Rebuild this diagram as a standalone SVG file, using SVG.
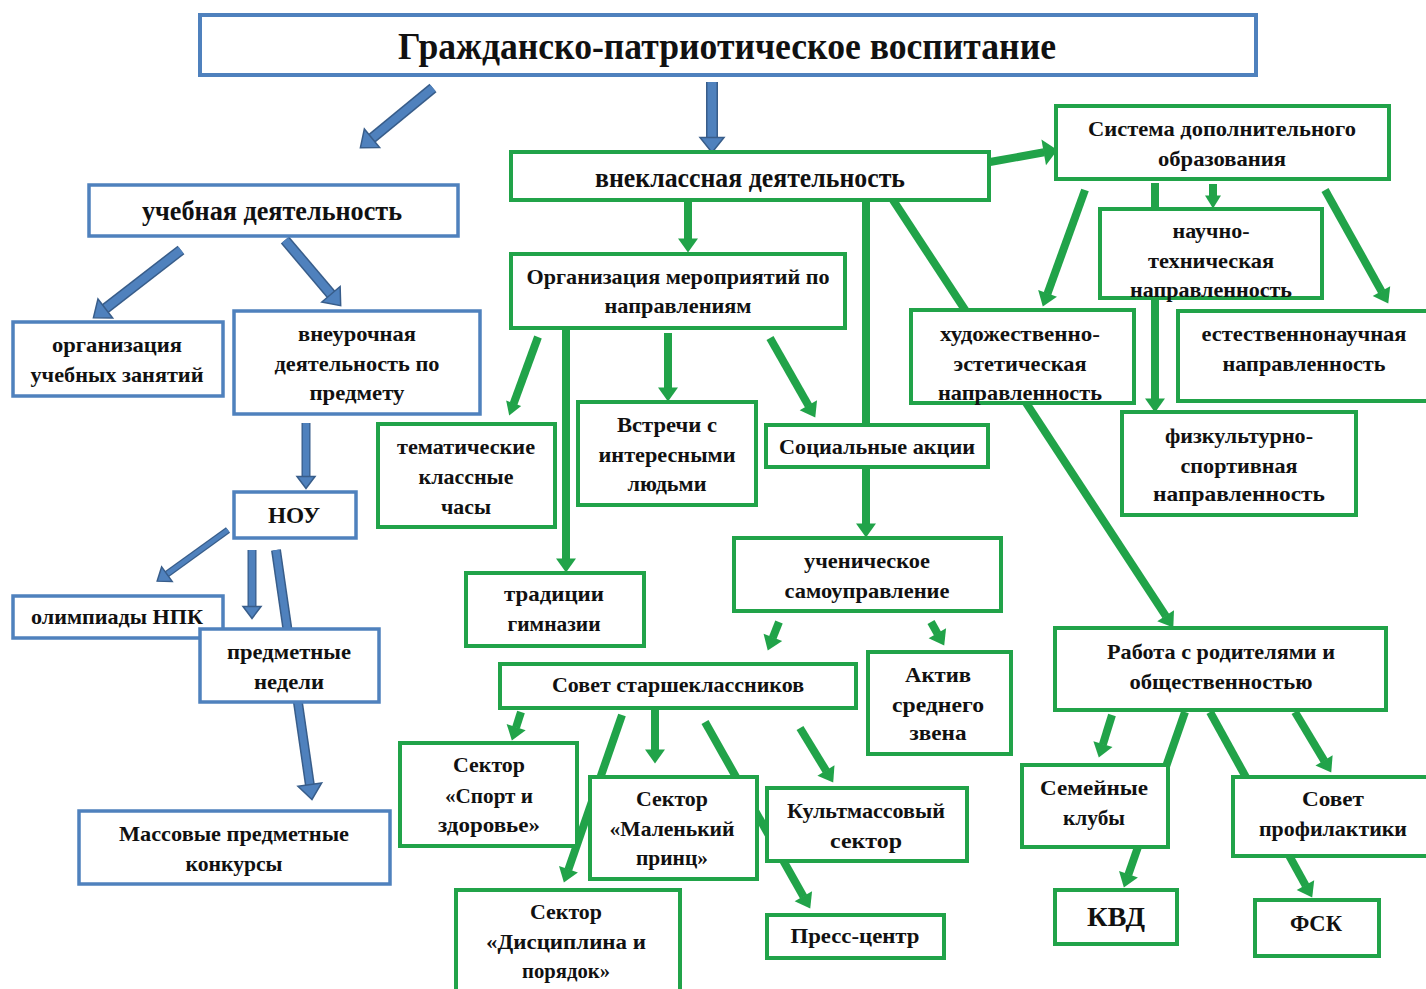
<svg xmlns="http://www.w3.org/2000/svg" width="1426" height="989" viewBox="0 0 1426 989">
<style>
.bb{fill:#fff;stroke:#4f81bd;stroke-width:3.5}
.gb{fill:#fff;stroke:#21a349;stroke-width:4}
.t{font-family:"Liberation Serif","DejaVu Serif",serif;font-weight:bold;font-size:22px;text-anchor:middle;fill:#111}
.gc{stroke:#21a349;stroke-width:8;fill:none}
.bo{stroke:#385d8a;fill:none}
.bi{stroke:#4f81bd;fill:none}
</style>
<defs>
<marker id="g" markerUnits="userSpaceOnUse" orient="auto" refX="0.5" refY="0" markerWidth="16" markerHeight="22" overflow="visible"><path d="M0,-10 L14,0 L0,10Z" fill="#21a349"/></marker>
<marker id="gs" markerUnits="userSpaceOnUse" orient="auto" refX="0.5" refY="0" markerWidth="14" markerHeight="18" overflow="visible"><path d="M0,-8 L13,0 L0,8Z" fill="#21a349"/></marker>
<marker id="gl" markerUnits="userSpaceOnUse" orient="auto" refX="0.5" refY="0" markerWidth="18" markerHeight="28" overflow="visible"><path d="M0,-13 L14,0 L0,13Z" fill="#21a349"/></marker>
<marker id="b" markerUnits="userSpaceOnUse" orient="auto" refX="0.5" refY="0" markerWidth="18" markerHeight="28" overflow="visible"><path d="M0,-12 L15,0 L0,12Z" fill="#4f81bd" stroke="#385d8a" stroke-width="1.5"/></marker>
<marker id="bs" markerUnits="userSpaceOnUse" orient="auto" refX="0.5" refY="0" markerWidth="14" markerHeight="20" overflow="visible"><path d="M0,-9 L12,0 L0,9Z" fill="#4f81bd" stroke="#385d8a" stroke-width="1.5"/></marker>
</defs>
<rect width="1426" height="989" fill="#fff"/>

<g id="connectors">
<line class="bo" x1="433" y1="88" x2="371.6" y2="138.5" stroke-width="11"/>
<line class="bi" x1="433" y1="88" x2="371.6" y2="138.5" stroke-width="8" marker-end="url(#b)"/>
<line class="bo" x1="712" y1="82" x2="712" y2="138" stroke-width="12"/>
<line class="bi" x1="712" y1="82" x2="712" y2="138" stroke-width="9" marker-end="url(#b)"/>
<line class="bo" x1="181" y1="250" x2="104.9" y2="308.8" stroke-width="11"/>
<line class="bi" x1="181" y1="250" x2="104.9" y2="308.8" stroke-width="8" marker-end="url(#b)"/>
<line class="bo" x1="285" y1="240" x2="331.3" y2="294.6" stroke-width="11"/>
<line class="bi" x1="285" y1="240" x2="331.3" y2="294.6" stroke-width="8" marker-end="url(#b)"/>
<line class="bo" x1="306" y1="423" x2="306" y2="477" stroke-width="9"/>
<line class="bi" x1="306" y1="423" x2="306" y2="477" stroke-width="6.5" marker-end="url(#bs)"/>
<line class="bo" x1="228" y1="530" x2="166.5" y2="574.4" stroke-width="7"/>
<line class="bi" x1="228" y1="530" x2="166.5" y2="574.4" stroke-width="4.5" marker-end="url(#bs)"/>
<line class="bo" x1="252" y1="550" x2="252" y2="607" stroke-width="9"/>
<line class="bi" x1="252" y1="550" x2="252" y2="607" stroke-width="6.5" marker-end="url(#bs)"/>
<line class="bo" x1="276" y1="550" x2="309.9" y2="785.1" stroke-width="10"/>
<line class="bi" x1="276" y1="550" x2="309.9" y2="785.1" stroke-width="7" marker-end="url(#b)"/>
<line class="gc" x1="990" y1="162" x2="1044.2" y2="152.3" stroke-width="11" marker-end="url(#gl)"/>
<line class="gc" x1="688" y1="200" x2="688" y2="239" marker-end="url(#g)"/>
<line class="gc" x1="538" y1="337" x2="513.5" y2="403.8" stroke-width="5" marker-end="url(#gs)"/>
<line class="gc" x1="668" y1="333" x2="668" y2="388" marker-end="url(#g)"/>
<line class="gc" x1="770" y1="338" x2="808.6" y2="405.7" marker-end="url(#g)"/>
<line class="gc" x1="566" y1="322" x2="566" y2="559" marker-end="url(#g)"/>
<line class="gc" x1="866" y1="200" x2="866" y2="524" marker-end="url(#g)"/>
<line class="gc" x1="893" y1="200" x2="1165.9" y2="616.1" stroke-width="7" marker-end="url(#g)"/>
<line class="gc" x1="1085" y1="190" x2="1047.4" y2="293.8" stroke-width="10" marker-end="url(#g)"/>
<line class="gc" x1="1213" y1="184" x2="1213" y2="196" stroke-width="9" marker-end="url(#gs)"/>
<line class="gc" x1="1155" y1="183" x2="1155" y2="399" marker-end="url(#g)"/>
<line class="gc" x1="1325" y1="190" x2="1381.7" y2="291.6" stroke-width="11" marker-end="url(#g)"/>
<line class="gc" x1="779" y1="622" x2="772.7" y2="637.9" stroke-width="10" marker-end="url(#g)"/>
<line class="gc" x1="931" y1="622" x2="937.6" y2="633.7" stroke-width="10" marker-end="url(#g)"/>
<line class="gc" x1="521" y1="712" x2="516" y2="727.6" stroke-width="10" marker-end="url(#g)"/>
<line class="gc" x1="655" y1="708" x2="655" y2="750" stroke-width="9" marker-end="url(#g)"/>
<line class="gc" x1="622" y1="715" x2="568.3" y2="869.7" marker-end="url(#g)"/>
<line class="gc" x1="705" y1="722" x2="803.6" y2="896.7" marker-end="url(#g)"/>
<line class="gc" x1="800" y1="728" x2="826.2" y2="770.9" stroke-width="9" marker-end="url(#g)"/>
<line class="gc" x1="1112" y1="715" x2="1102.8" y2="744.6" marker-end="url(#g)"/>
<line class="gc" x1="1185" y1="712" x2="1128.3" y2="874.7" stroke-width="9" marker-end="url(#g)"/>
<line class="gc" x1="1210" y1="712" x2="1305.7" y2="885.6" stroke-width="9" marker-end="url(#g)"/>
<line class="gc" x1="1295" y1="712" x2="1324.3" y2="760.9" stroke-width="10" marker-end="url(#g)"/>
</g>

<g id="n-root"><rect class="bb" x="200" y="15" width="1056" height="60" style="stroke-width:4"/><text class="t" x="727" y="59" style="font-size:38px" textLength="658" lengthAdjust="spacingAndGlyphs">Гражданско-патриотическое воспитание</text></g>
<g id="n-ucheb"><rect class="bb" x="89" y="185" width="369" height="51"/><text class="t" x="272" y="220" style="font-size:27px" textLength="260" lengthAdjust="spacingAndGlyphs">учебная деятельность</text></g>
<g id="n-org-zan"><rect class="bb" x="13" y="322" width="210" height="74"/><text class="t" x="117" y="352" textLength="130" lengthAdjust="spacingAndGlyphs">организация</text><text class="t" x="117" y="382" textLength="173" lengthAdjust="spacingAndGlyphs">учебных занятий</text></g>
<g id="n-vneur"><rect class="bb" x="234" y="311" width="246" height="103"/><text class="t" x="357" y="341" textLength="118" lengthAdjust="spacingAndGlyphs">внеурочная</text><text class="t" x="357" y="371" textLength="165" lengthAdjust="spacingAndGlyphs">деятельность по</text><text class="t" x="357" y="400" textLength="95" lengthAdjust="spacingAndGlyphs">предмету</text></g>
<g id="n-nou"><rect class="bb" x="234" y="492" width="122" height="46"/><text class="t" x="294" y="523" style="font-size:24px" textLength="52" lengthAdjust="spacingAndGlyphs">НОУ</text></g>
<g id="n-olimp"><rect class="bb" x="13" y="596" width="210" height="42"/><text class="t" x="117" y="624" textLength="172" lengthAdjust="spacingAndGlyphs">олимпиады НПК</text></g>
<g id="n-nedeli"><rect class="bb" x="200" y="629" width="179" height="73"/><text class="t" x="289" y="659" textLength="124" lengthAdjust="spacingAndGlyphs">предметные</text><text class="t" x="289" y="689" textLength="70" lengthAdjust="spacingAndGlyphs">недели</text></g>
<g id="n-konk"><rect class="bb" x="79" y="811" width="311" height="73"/><text class="t" x="234" y="841" textLength="230" lengthAdjust="spacingAndGlyphs">Массовые предметные</text><text class="t" x="234" y="871" textLength="97" lengthAdjust="spacingAndGlyphs">конкурсы</text></g>

<g id="n-vnekl"><rect class="gb" x="511" y="152" width="478" height="48"/><text class="t" x="750" y="187" style="font-size:27px" textLength="310" lengthAdjust="spacingAndGlyphs">внеклассная деятельность</text></g>
<g id="n-sistema"><rect class="gb" x="1056" y="106" width="333" height="73"/><text class="t" x="1222" y="136" textLength="268" lengthAdjust="spacingAndGlyphs">Система дополнительного</text><text class="t" x="1222" y="166" textLength="128" lengthAdjust="spacingAndGlyphs">образования</text></g>
<g id="n-org-mer"><rect class="gb" x="511" y="254" width="334" height="74"/><text class="t" x="678" y="284" textLength="303" lengthAdjust="spacingAndGlyphs">Организация мероприятий по</text><text class="t" x="678" y="313" textLength="147" lengthAdjust="spacingAndGlyphs">направлениям</text></g>
<g id="n-hud"><rect class="gb" x="911" y="310" width="223" height="93"/><text class="t" x="1020" y="341" textLength="160" lengthAdjust="spacingAndGlyphs">художественно-</text><text class="t" x="1020" y="371" textLength="133" lengthAdjust="spacingAndGlyphs">эстетическая</text><text class="t" x="1020" y="400" textLength="164" lengthAdjust="spacingAndGlyphs">направленность</text></g>
<g id="n-nauch"><rect class="gb" x="1100" y="209" width="222" height="89"/><text class="t" x="1211" y="238" textLength="77" lengthAdjust="spacingAndGlyphs">научно-</text><text class="t" x="1211" y="268" textLength="126" lengthAdjust="spacingAndGlyphs">техническая</text><text class="t" x="1211" y="297" textLength="162" lengthAdjust="spacingAndGlyphs">направленность</text></g>
<g id="n-estest"><rect class="gb" x="1178" y="311" width="250" height="90"/><text class="t" x="1304" y="341" textLength="205" lengthAdjust="spacingAndGlyphs">естественнонаучная</text><text class="t" x="1304" y="371" textLength="163" lengthAdjust="spacingAndGlyphs">направленность</text></g>
<g id="n-fiz"><rect class="gb" x="1122" y="412" width="234" height="103"/><text class="t" x="1239" y="443" textLength="148" lengthAdjust="spacingAndGlyphs">физкультурно-</text><text class="t" x="1239" y="473" textLength="117" lengthAdjust="spacingAndGlyphs">спортивная</text><text class="t" x="1239" y="501" textLength="172" lengthAdjust="spacingAndGlyphs">направленность</text></g>
<g id="n-temat"><rect class="gb" x="378" y="424" width="177" height="103"/><text class="t" x="466" y="454" textLength="138" lengthAdjust="spacingAndGlyphs">тематические</text><text class="t" x="466" y="484" textLength="95" lengthAdjust="spacingAndGlyphs">классные</text><text class="t" x="466" y="514" textLength="50" lengthAdjust="spacingAndGlyphs">часы</text></g>
<g id="n-vstr"><rect class="gb" x="578" y="402" width="178" height="103"/><text class="t" x="667" y="432" textLength="100" lengthAdjust="spacingAndGlyphs">Встречи с</text><text class="t" x="667" y="462" textLength="137" lengthAdjust="spacingAndGlyphs">интересными</text><text class="t" x="667" y="491" textLength="79" lengthAdjust="spacingAndGlyphs">людьми</text></g>
<g id="n-soc"><rect class="gb" x="766" y="425" width="222" height="42"/><text class="t" x="877" y="454" textLength="196" lengthAdjust="spacingAndGlyphs">Социальные акции</text></g>
<g id="n-trad"><rect class="gb" x="466" y="573" width="178" height="73"/><text class="t" x="554" y="601" textLength="100" lengthAdjust="spacingAndGlyphs">традиции</text><text class="t" x="554" y="631" textLength="93" lengthAdjust="spacingAndGlyphs">гимназии</text></g>
<g id="n-samoupr"><rect class="gb" x="734" y="538" width="267" height="73"/><text class="t" x="867" y="568" textLength="126" lengthAdjust="spacingAndGlyphs">ученическое</text><text class="t" x="867" y="598" textLength="165" lengthAdjust="spacingAndGlyphs">самоуправление</text></g>
<g id="n-sovet-st"><rect class="gb" x="500" y="664" width="356" height="44"/><text class="t" x="678" y="692" textLength="252" lengthAdjust="spacingAndGlyphs">Совет старшеклассников</text></g>
<g id="n-aktiv"><rect class="gb" x="868" y="652" width="143" height="102"/><text class="t" x="938" y="682" textLength="66" lengthAdjust="spacingAndGlyphs">Актив</text><text class="t" x="938" y="712" textLength="92" lengthAdjust="spacingAndGlyphs">среднего</text><text class="t" x="938" y="740" textLength="57" lengthAdjust="spacingAndGlyphs">звена</text></g>
<g id="n-rabota"><rect class="gb" x="1055" y="628" width="331" height="82"/><text class="t" x="1221" y="659" textLength="228" lengthAdjust="spacingAndGlyphs">Работа с родителями и</text><text class="t" x="1221" y="689" textLength="183" lengthAdjust="spacingAndGlyphs">общественностью</text></g>
<g id="n-sport"><rect class="gb" x="400" y="743" width="177" height="103"/><text class="t" x="489" y="772" textLength="72" lengthAdjust="spacingAndGlyphs">Сектор</text><text class="t" x="489" y="803" textLength="88" lengthAdjust="spacingAndGlyphs">«Спорт и</text><text class="t" x="489" y="832" textLength="102" lengthAdjust="spacingAndGlyphs">здоровье»</text></g>
<g id="n-princ"><rect class="gb" x="590" y="777" width="167" height="102"/><text class="t" x="672" y="806" textLength="72" lengthAdjust="spacingAndGlyphs">Сектор</text><text class="t" x="672" y="836" textLength="125" lengthAdjust="spacingAndGlyphs">«Маленький</text><text class="t" x="672" y="865" textLength="72" lengthAdjust="spacingAndGlyphs">принц»</text></g>
<g id="n-kult"><rect class="gb" x="767" y="788" width="200" height="73"/><text class="t" x="866" y="818" textLength="158" lengthAdjust="spacingAndGlyphs">Культмассовый</text><text class="t" x="866" y="848" textLength="72" lengthAdjust="spacingAndGlyphs">сектор</text></g>
<g id="n-disc"><rect class="gb" x="456" y="890" width="224" height="104"/><text class="t" x="566" y="919" textLength="72" lengthAdjust="spacingAndGlyphs">Сектор</text><text class="t" x="566" y="949" textLength="160" lengthAdjust="spacingAndGlyphs">«Дисциплина и</text><text class="t" x="566" y="978" textLength="88" lengthAdjust="spacingAndGlyphs">порядок»</text></g>
<g id="n-press"><rect class="gb" x="767" y="915" width="177" height="43"/><text class="t" x="855" y="943" textLength="129" lengthAdjust="spacingAndGlyphs">Пресс-центр</text></g>
<g id="n-sem"><rect class="gb" x="1022" y="765" width="146" height="82"/><text class="t" x="1094" y="795" textLength="108" lengthAdjust="spacingAndGlyphs">Семейные</text><text class="t" x="1094" y="825" textLength="62" lengthAdjust="spacingAndGlyphs">клубы</text></g>
<g id="n-sovet-pr"><rect class="gb" x="1233" y="777" width="196" height="79"/><text class="t" x="1333" y="806" textLength="62" lengthAdjust="spacingAndGlyphs">Совет</text><text class="t" x="1333" y="836" textLength="148" lengthAdjust="spacingAndGlyphs">профилактики</text></g>
<g id="n-kvd"><rect class="gb" x="1055" y="890" width="122" height="54"/><text class="t" x="1116" y="926" style="font-size:27px" textLength="58" lengthAdjust="spacingAndGlyphs">КВД</text></g>
<g id="n-fsk"><rect class="gb" x="1255" y="900" width="124" height="56"/><text class="t" x="1316" y="931" style="font-size:24px" textLength="52" lengthAdjust="spacingAndGlyphs">ФСК</text></g>
</svg>
